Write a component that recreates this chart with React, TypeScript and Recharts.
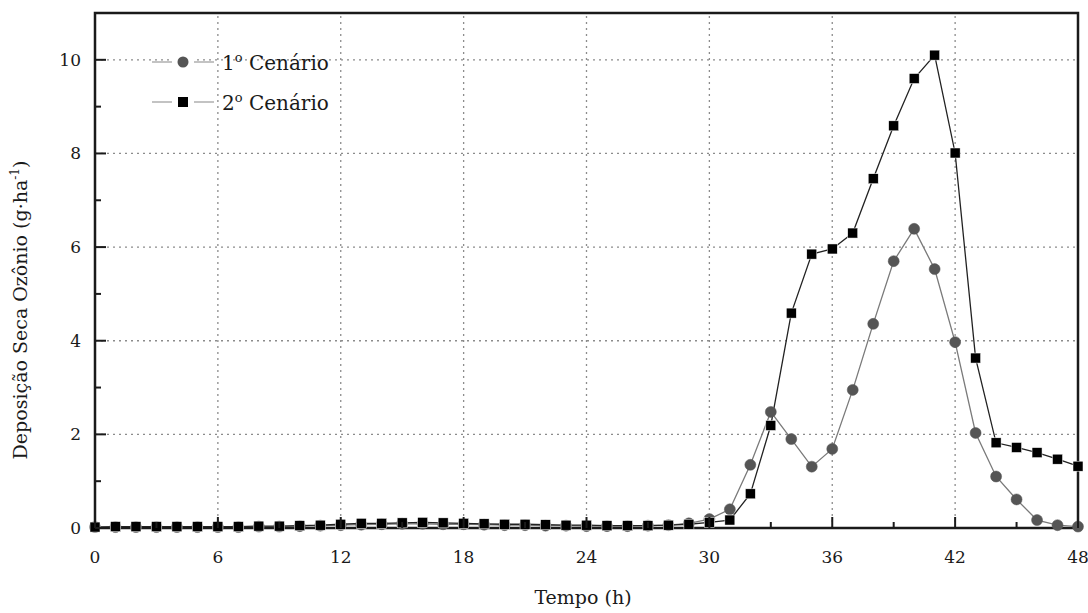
import {
  LineChart,
  Line,
  XAxis,
  YAxis,
  ReferenceLine,
  ReferenceArea,
} from 'recharts';

const HOURS = [
  0, 1, 2, 3, 4, 5, 6, 7, 8, 9, 10, 11, 12, 13, 14, 15, 16, 17, 18, 19, 20, 21, 22, 23, 24,
  25, 26, 27, 28, 29, 30, 31, 32, 33, 34, 35, 36, 37, 38, 39, 40, 41, 42, 43, 44, 45, 46, 47, 48,
];

// 1º Cenário (círculos)
const CENARIO_1 = [
  0.02, 0.02, 0.02, 0.02, 0.02, 0.02, 0.02, 0.02, 0.03, 0.03, 0.04, 0.05, 0.06, 0.07, 0.08,
  0.09, 0.09, 0.08, 0.08, 0.07, 0.06, 0.06, 0.05, 0.05, 0.04, 0.04, 0.04, 0.05, 0.06, 0.1,
  0.19, 0.4, 1.35, 2.48, 1.9, 1.31, 1.69, 2.95, 4.36, 5.7, 6.39, 5.53, 3.97, 2.03, 1.1, 0.61,
  0.17, 0.06, 0.03,
];

// 2º Cenário (quadrados)
const CENARIO_2 = [
  0.02, 0.03, 0.03, 0.03, 0.03, 0.03, 0.03, 0.03, 0.04, 0.04, 0.05, 0.06, 0.08, 0.1, 0.1,
  0.11, 0.12, 0.11, 0.1, 0.09, 0.08, 0.08, 0.07, 0.06, 0.06, 0.05, 0.05, 0.05, 0.06, 0.08,
  0.12, 0.17, 0.73, 2.19, 4.59, 5.85, 5.96, 6.3, 7.46, 8.59, 9.6, 10.1, 8.01, 3.63, 1.82,
  1.72, 1.61, 1.47, 1.32,
];

const X_TICKS = [0, 3, 6, 9, 12, 15, 18, 21, 24, 27, 30, 33, 36, 39, 42, 45, 48];
const X_GRID = [6, 12, 18, 24, 30, 36, 42];
const Y_TICKS = [0, 1, 2, 3, 4, 5, 6, 7, 8, 9, 10];
const Y_GRID = [2, 4, 6, 8, 10];

const FONT = '"DejaVu Serif", "Liberation Serif", serif';
const INK = '#1a1a1a';
const GRID = '#8c8c8c';

const data = HOURS.map((h, i) => ({ h, c1: CENARIO_1[i], c2: CENARIO_2[i] }));

function XTick({ x, y, payload }: any) {
  const major = payload.value % 6 === 0;
  const axisY = y - 20;
  return (
    <g>
      <line x1={x} x2={x} y1={axisY} y2={axisY - (major ? 11 : 6)} stroke={INK} strokeWidth={2} />
      {major && (
        <text x={x} y={axisY + 35} textAnchor="middle" fontFamily={FONT} fontSize={17} fill={INK}>
          {payload.value}
        </text>
      )}
    </g>
  );
}

function YTick({ x, y, payload }: any) {
  const major = payload.value % 2 === 0;
  const axisX = x + 14;
  return (
    <g>
      <line x1={axisX} x2={axisX + (major ? 11 : 6)} y1={y} y2={y} stroke={INK} strokeWidth={2} />
      {major && (
        <text x={axisX - 14} y={y + 6} textAnchor="end" fontFamily={FONT} fontSize={17} fill={INK}>
          {payload.value}
        </text>
      )}
    </g>
  );
}

function YTitle() {
  return (
    <text
      transform="translate(27, 310) rotate(-90)"
      textAnchor="middle"
      fontFamily={FONT}
      fontSize={19}
      fill={INK}
    >
      Deposição Seca Ozônio (g·ha
      <tspan fontSize={12} dy={-8}>-1</tspan>
      <tspan dy={8}>)</tspan>
    </text>
  );
}

function XTitle() {
  return (
    <text x={583} y={604} textAnchor="middle" fontFamily={FONT} fontSize={19} fill={INK}>
      Tempo (h)
    </text>
  );
}

function Square({ cx, cy }: any) {
  if (cx == null || cy == null) return null;
  return <rect x={cx - 5} y={cy - 5} width={10} height={10} fill="#000" stroke="#fff" strokeWidth={0.5} />;
}

function LegendBox() {
  const row = (marker: React.ReactNode, label: string) => (
    <div style={{ display: 'flex', alignItems: 'center', height: 40 }}>
      <svg width={70} height={20}>
        <line x1={2} x2={64} y1={10} y2={10} stroke="#888" strokeWidth={1.2} />
        <rect x={22} y={4} width={22} height={12} fill="#fff" />
        {marker}
      </svg>
      <span style={{ fontFamily: FONT, fontSize: 20, color: INK, marginLeft: 2 }}>
        {label}
        <sup style={{ fontSize: 13 }}>o</sup> Cenário
      </span>
    </div>
  );
  return (
    <div style={{ position: 'absolute', left: 150, top: 42, width: 230 }}>
      {row(<circle cx={33} cy={10} r={5.5} fill="#555" />, '1')}
      {row(<rect x={28} y={5} width={10} height={10} fill="#000" />, '2')}
    </div>
  );
}

export default function App() {
  return (
    <div style={{ position: 'absolute', left: 0, top: 0, width: 1088, height: 613, background: '#fff' }}>
      <LineChart
        width={1088}
        height={613}
        data={data}
        margin={{ top: 13, right: 10, left: 0, bottom: 0 }}
      >
        <XAxis
          dataKey="h"
          type="number"
          domain={[0, 48]}
          ticks={X_TICKS}
          interval={0}
          tickSize={0}
          tickMargin={20}
          tickLine={false}
          tick={<XTick />}
          axisLine={{ stroke: INK, strokeWidth: 2 }}
          height={85}
          label={<XTitle />}
        />
        <YAxis
          type="number"
          domain={[0, 11]}
          ticks={Y_TICKS}
          interval={0}
          tickSize={0}
          tickMargin={14}
          tickLine={false}
          tick={<YTick />}
          axisLine={{ stroke: INK, strokeWidth: 2 }}
          width={95}
          label={<YTitle />}
        />
        {X_GRID.map((v) => (
          <ReferenceLine key={`x${v}`} x={v} stroke={GRID} strokeWidth={1.3} strokeDasharray="2 4" />
        ))}
        {Y_GRID.map((v) => (
          <ReferenceLine key={`y${v}`} y={v} stroke={GRID} strokeWidth={1.3} strokeDasharray="2 4" />
        ))}
        <ReferenceArea x1={0} x2={48} y1={0} y2={11} fill="none" stroke={INK} strokeWidth={2.5} />
        <Line
          dataKey="c1"
          name="1º Cenário"
          stroke="#7a7a7a"
          strokeWidth={1.3}
          dot={{ r: 5.5, fill: '#555', stroke: '#555', strokeWidth: 0.5 }}
          isAnimationActive={false}
        />
        <Line
          dataKey="c2"
          name="2º Cenário"
          stroke="#222"
          strokeWidth={1.3}
          dot={<Square />}
          isAnimationActive={false}
        />
      </LineChart>
      <LegendBox />
    </div>
  );
}
